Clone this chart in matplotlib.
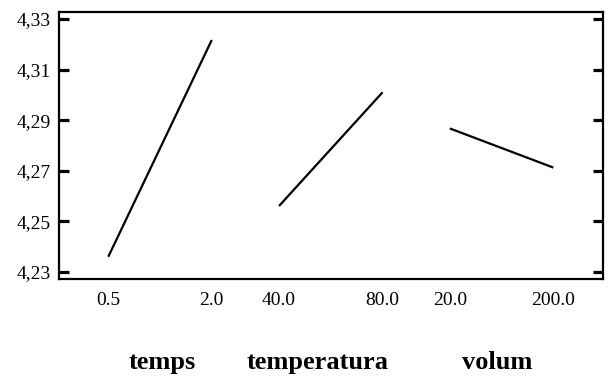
import matplotlib
matplotlib.use("Agg")
import matplotlib.pyplot as plt

# main effects: mean response at the low and high level of each factor
factors = ["temps", "temperatura", "volum"]
levels = [["0.5", "2.0"], ["40.0", "80.0"], ["20.0", "200.0"]]
means = [[4.2359, 4.3217], [4.2560, 4.3010], [4.2867, 4.2712]]

yticks = [4.23, 4.25, 4.27, 4.29, 4.31, 4.33]
ytick_labels = ["4,23", "4,25", "4,27", "4,29", "4,31", "4,33"]

plt.rcParams["font.family"] = ["Liberation Serif", "DejaVu Serif"]

fig = plt.figure(figsize=(6.12, 3.78), dpi=100)
ax = fig.add_axes([0.0964, 0.2619, 0.8889, 0.7071])

group_step = 1.65
xpos, xlab = [], []
for i, (lv, m) in enumerate(zip(levels, means)):
    x = [i * group_step, i * group_step + 1]
    ax.plot(x, m, color="black", lw=1.6, solid_capstyle="butt")
    xpos += x
    xlab += lv

ax.set_xlim(-0.476, 4.78)
ax.set_ylim(4.2271, 4.3329)
ax.set_xticks(xpos)
ax.set_xticklabels(xlab, fontsize=14)
ax.set_yticks(yticks)
ax.set_yticklabels(ytick_labels, fontsize=14)
ax.tick_params(axis="x", length=0, pad=9)
ax.tick_params(axis="y", direction="in", length=7.5, width=2.3, right=True, pad=6)
for s in ax.spines.values():
    s.set_linewidth(1.6)

# factor names under the level labels
for name, xc in zip(factors, [162, 318, 497]):
    fig.text(xc / 612, 1 - 369 / 378, name, ha="center", va="baseline",
             fontsize=19, fontweight="bold")

fig.savefig("out.png", dpi=100)
